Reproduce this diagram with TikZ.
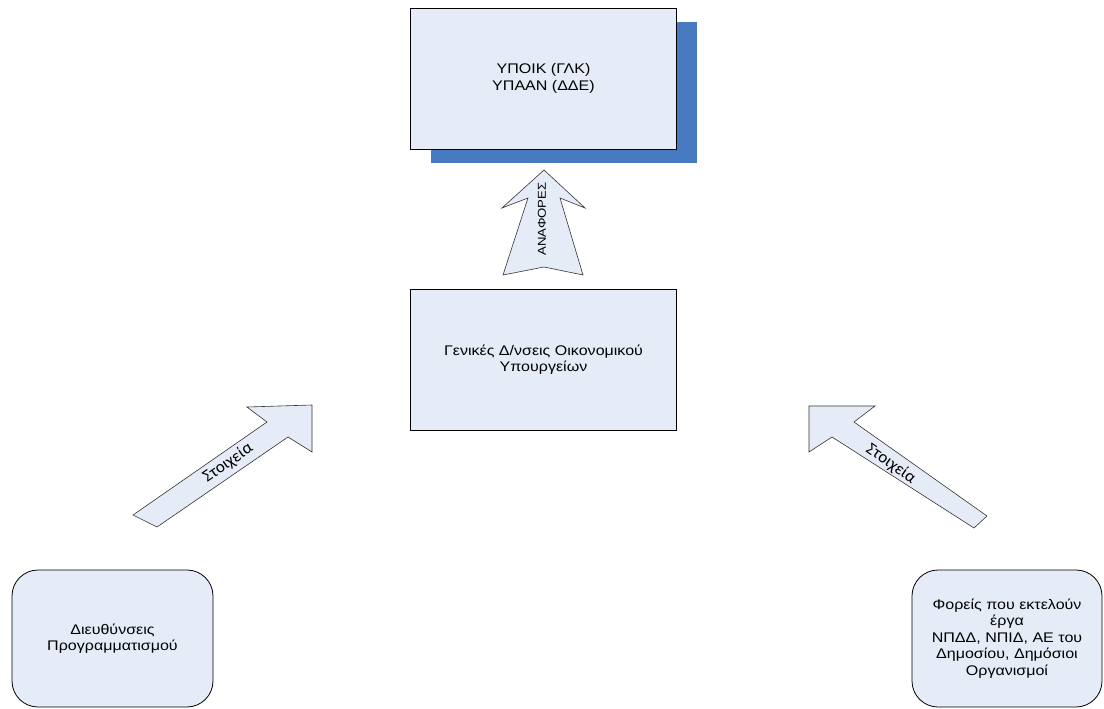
\documentclass[tikz,border=0pt]{standalone}
\usepackage{fontspec}
\setmainfont{Liberation Sans}
\newfontfamily\boxfont[FakeStretch=1.15]{Liberation Sans}
\newfontfamily\tagfont{Carlito}
\usetikzlibrary{positioning,backgrounds}
\definecolor{boxfill}{RGB}{230,236,247}
\definecolor{shadowblue}{RGB}{72,122,194}

\begin{document}
\begin{tikzpicture}[
    x=1bp, y=-1bp,
    node distance=140bp,
    box/.style={
        % The shape:
        rectangle,
        minimum width=266bp,
        minimum height=141bp,
        outer sep=0pt,
        % The fill
        draw=black,
        line width=0.8bp,
        fill=boxfill,
        % The fonts
        align=center,
        font=\boxfont\fontsize{14}{16.5}\selectfont},
    roundbox/.style={
        box,
        rounded corners=26bp,
        minimum height=137bp},
    blockarrow/.style={
        draw=black!80,
        line width=0.6bp,
        fill=boxfill},
    tag/.style={
        inner sep=0pt,
        font=\tagfont\fontsize{17}{17}\selectfont}
  ]
  \useasboundingbox (0,0) rectangle (1104,709);

  \node (ypoik) [box] at (543.5,78.5) {ΥΠΟΙΚ (ΓΛΚ)\\ΥΠΑΑΝ (ΔΔΕ)};
  \node (genikes) [box,below=of ypoik] {Γενικές Δ/νσεις Οικονομικού\\Υπουργείων};
  \node (dieythynseis) [roundbox,minimum width=201bp] at (112.5,638.5)
    {Διευθύνσεις\\Προγραμματισμού};
  \node (foreis) [roundbox,minimum width=190bp] at (1007,638.5)
    {Φορείς που εκτελούν\\έργα\\ΝΠΔΔ, ΝΠΙΔ, ΑΕ του\\Δημοσίου, Δημόσιοι\\Οργανισμοί};

  \begin{scope}[on background layer]%σκιά
    \fill [shadowblue] ([shift={(20,14)}]ypoik.south west)
      rectangle ([shift={(20,14)}]ypoik.north east);
  \end{scope}

  % block arrows
  \draw [blockarrow] (544,170) -- (585,208) -- (560,198) -- (583,275) -- (544,267)
    -- (503,275) -- (528,198) -- (502,208) -- cycle;
  \node (anafores) [rotate=90,inner sep=0pt,font=\boxfont\fontsize{11.5}{11.5}\selectfont]
    at (542,219) {ΑΝΑΦΟΡΕΣ};

  \draw [blockarrow] (133,515) -- (267,422) -- (247,407) -- (312,405) -- (312,452)
    -- (288,437) -- (157,527) -- cycle;
  \node (stoixeia left) [tag,rotate=35] at (228,463) {Στοιχεία};

  \draw [blockarrow] (809,406) -- (875,406) -- (854,422) -- (987,516) -- (974,528)
    -- (832,437) -- (809,452) -- cycle;
  \node (stoixeia right) [tag,rotate=-35] at (891,464) {Στοιχεία};
\end{tikzpicture}
\end{document}
